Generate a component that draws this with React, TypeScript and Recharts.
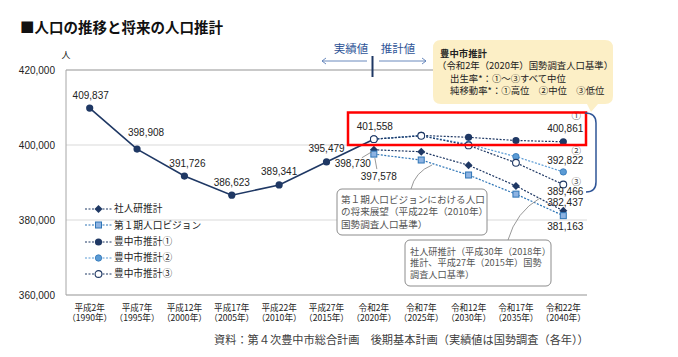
import React from "react";
import {
  ComposedChart,
  Line,
  XAxis,
  YAxis,
  CartesianGrid,
  Legend,
  LabelList,
  ReferenceLine,
} from "recharts";

const years = ["平成2年", "平成7年", "平成12年", "平成17年", "平成22年", "平成27年", "令和2年", "令和7年", "令和12年", "令和17年", "令和22年"];
const seireki = ["1990", "1995", "2000", "2005", "2010", "2015", "2020", "2025", "2030", "2035", "2040"];
const yTicks = [360000, 380000, 400000, 420000];

const actual = [409837, 398908, 391726, 386623, 389341, 395479, 401558, null, null, null, null];
const ipss = [null, null, null, null, null, null, 398730, 398200, 394600, 389100, 382437];
const vision = [null, null, null, null, null, null, 397578, 396000, 392000, 386900, 381163];
const city1 = [null, null, null, null, null, null, 401558, 402550, 402050, 401200, 400861];
const city2 = [null, null, null, null, null, null, 401558, 402500, 400200, 396900, 392822];
const city3 = [null, null, null, null, null, null, 401558, 402450, 399900, 395250, 389466];

const data = years.map((year, i) => ({
  year,
  actual: actual[i],
  ipss: ipss[i],
  vision: vision[i],
  city1: city1[i],
  city2: city2[i],
  city3: city3[i],
}));

const JP = "'Noto Sans CJK JP', sans-serif";
const NUM = "'Liberation Sans', Arial, sans-serif";
const NAVY = "#1f3864";
const BLUE = "#5b9bd5";
const BLUE_DK = "#2e75b6";
const GRAY = "#a6a6a6";

// marker shapes shared by the series dots and the legend
const marker = (kind: string, cx: number, cy: number, key?: any) => {
  switch (kind) {
    case "ipss":
      return <path key={key} d={`M${cx},${cy - 4}L${cx + 4},${cy}L${cx},${cy + 4}L${cx - 4},${cy}Z`} fill={NAVY} />;
    case "vision":
      return <rect key={key} x={cx - 3} y={cy - 3} width={6} height={6} fill="#8db3e2" stroke={BLUE_DK} strokeWidth={1} />;
    case "city1":
      return <circle key={key} cx={cx} cy={cy} r={3.6} fill={NAVY} />;
    case "city2":
      return <circle key={key} cx={cx} cy={cy} r={3.2} fill={BLUE} stroke={BLUE_DK} strokeWidth={0.8} />;
    case "city3":
      return <circle key={key} cx={cx} cy={cy} r={3.4} fill="#fff" stroke={NAVY} strokeWidth={1.1} />;
    default:
      return <circle key={key} cx={cx} cy={cy} r={3.6} fill={NAVY} />;
  }
};

const dotOf = (kind: string) => (p: any) => {
  const { cx, cy, index } = p;
  if (typeof cx !== "number" || typeof cy !== "number" || isNaN(cy)) return <g key={`d${index}`} />;
  return marker(kind, cx, cy, `d${index}`);
};

type Spot = { dx: number; dy: number; anchor?: "start" | "middle" | "end"; lead?: number[]; mark?: string; mdx?: number; mdy?: number };

const labelAt = (spots: Record<number, Spot>) => (p: any) => {
  const x = p.x ?? p.viewBox?.x;
  const y = p.y ?? p.viewBox?.y;
  const s = spots[p.index];
  if (!s || p.value == null || x == null || y == null) return null;
  return (
    <g>
      {s.lead && (
        <line x1={x + s.lead[0]} y1={y + s.lead[1]} x2={x + s.lead[2]} y2={y + s.lead[3]} stroke="#7f7f7f" strokeWidth={0.8} />
      )}
      <text x={x + s.dx} y={y + s.dy} textAnchor={s.anchor ?? "middle"} fontSize={10} fontFamily={NUM} fill="#222">
        {Number(p.value).toLocaleString("en-US")}
      </text>
      {s.mark && (
        <text x={x + (s.mdx ?? 0)} y={y + (s.mdy ?? 0)} textAnchor="middle" fontSize={9.5} fontFamily={JP} fill="#444">
          {s.mark}
        </text>
      )}
    </g>
  );
};

const actualSpots: Record<number, Spot> = {
  0: { dx: 1, dy: -9 },
  1: { dx: 9, dy: -13 },
  2: { dx: 3, dy: -9.5 },
  3: { dx: 0, dy: -9 },
  4: { dx: 0, dy: -9.5 },
  5: { dx: 0, dy: -9.5 },
  6: { dx: 1, dy: -9 },
};
const ipssSpots: Record<number, Spot> = {
  6: { dx: -3, dy: 17, anchor: "end", lead: [-2, 2, -12, 8] },
  10: { dx: 20, dy: -5, anchor: "end" },
};
const visionSpots: Record<number, Spot> = {
  6: { dx: 5, dy: 26, lead: [1, 4, 3, 15] },
  10: { dx: 20, dy: 14, anchor: "end" },
};
const city1Spots: Record<number, Spot> = { 10: { dx: 20, dy: -10, anchor: "end", mark: "①", mdx: 13, mdy: -22.5 } };
const city2Spots: Record<number, Spot> = { 10: { dx: 20, dy: -7.5, anchor: "end", mark: "②", mdx: 13, mdy: -17.5 } };
const city3Spots: Record<number, Spot> = { 10: { dx: 20, dy: 10, anchor: "end", mark: "③", mdx: 13, mdy: 0.5 } };

const YearTick = (p: any) => {
  const { x, y, payload, index } = p;
  return (
    <g fontFamily={JP} fontSize={8.6} fill="#222">
      <text x={x} y={y + 13.5} textAnchor="middle">{payload.value}</text>
      <text x={x} y={y + 24} textAnchor="middle">（{seireki[index]}年）</text>
    </g>
  );
};

const lineColor: Record<string, string> = { ipss: NAVY, vision: BLUE_DK, city1: NAVY, city2: BLUE, city3: NAVY };

const renderLegend = (props: any) => (
  <div style={{ fontFamily: JP, fontSize: 9.7, color: "#222", lineHeight: 1 }}>
    {(props.payload ?? [])
      .filter((it: any) => it.type !== "none" && lineColor[it.dataKey])
      .map((it: any) => (
        <div key={it.value} style={{ display: "flex", alignItems: "center", height: 16.3 }}>
          <svg width={30} height={10} style={{ display: "block" }}>
            <line x1={1} y1={5} x2={28} y2={5} stroke={lineColor[it.dataKey]} strokeDasharray="2 1.5" strokeWidth={1.2} />
            {marker(it.dataKey, 14.5, 5)}
          </svg>
          <span>{it.value}</span>
        </div>
      ))}
  </div>
);

function Overlay() {
  return (
    <svg width={678} height={357} style={{ position: "absolute", left: 0, top: 0, pointerEvents: "none" }}>
      <text x={20} y={33} fontFamily={JP} fontSize={14.5} fontWeight="bold" fill="#111">■人口の推移と将来の人口推計</text>
      <text x={66} y={58} textAnchor="middle" fontFamily={JP} fontSize={9} fill="#222">人</text>

      {/* actual / projection divider */}
      <text x={351} y={53} textAnchor="middle" fontFamily={JP} fontSize={11.5} fill="#2f5597">実績値</text>
      <text x={398} y={53} textAnchor="middle" fontFamily={JP} fontSize={11.5} fill="#2f5597">推計値</text>
      <g stroke="#5a7db5" strokeWidth={0.9} fill="none">
        <path d="M322,61 L367,61 M326,58 L322,61 L326,64" />
        <path d="M379,61 L426,61 M422,58 L426,61 L422,64" />
      </g>
      <line x1={372.5} y1={56} x2={372.5} y2={77} stroke={NAVY} strokeWidth={2} />

      {/* beige callout */}
      <path
        d="M441,40 L605,40 Q613,40 613,48 L613,96 Q613,104 605,104 L598,104 L591,112 L587,104 L441,104 Q433,104 433,96 L433,48 Q433,40 441,40 Z"
        fill="#fcefc6"
      />
      <g fontFamily={JP} fontSize={9.4} fill="#222">
        <text x={440} y={56.5} fontWeight="bold">豊中市推計</text>
        <text x={437} y={68.5}>（令和2年（2020年）国勢調査人口基準）</text>
        <text x={450} y={81.5}>出生率*：①〜③すべて中位</text>
        <text x={450} y={94}>純移動率*：①高位　②中位　③低位</text>
      </g>

      <rect x={348} y={112.5} width={238} height={32.5} fill="none" stroke="#ff0000" strokeWidth={2.5} />
      <path d="M585,113 Q596,113 596,123 L596,182 Q596,192 586,192" fill="none" stroke="#2f5597" strokeWidth={1.5} />

      {/* gray note boxes */}
      <g fill="none" stroke="#8c8c8c" strokeWidth={0.9}>
        <path d="M411,189 Q415,172 432,165" />
        <path d="M508,240 Q516,212 540,198" />
      </g>
      <rect x={337} y={189} width={150} height={46} rx={5} fill="#fff" stroke="#8c8c8c" strokeWidth={1} />
      <g fontFamily={JP} fontSize={9.6} fill="#555">
        <text x={341} y={202.5}>第１期人口ビジョンにおける人口</text>
        <text x={341} y={215}>の将来展望（平成22年（2010年）</text>
        <text x={341} y={227.5}>国勢調査人口基準）</text>
      </g>
      <rect x={405} y={240} width={146} height={46} rx={5} fill="#fff" stroke="#8c8c8c" strokeWidth={1} />
      <g fontFamily={JP} fontSize={9.2} fill="#555">
        <text x={410} y={254.5}>社人研推計（平成30年（2018年）</text>
        <text x={410} y={266}>推計、平成27年（2015年）国勢</text>
        <text x={410} y={277.5}>調査人口基準）</text>
      </g>

      <text x={214} y={344} fontFamily={JP} fontSize={11.2} fill="#404040">
        資料：第４次豊中市総合計画　後期基本計画（実績値は国勢調査（各年））
      </text>
    </svg>
  );
}

export default function App() {
  return (
    <div style={{ position: "absolute", left: 0, top: 0, width: 678, height: 357, background: "#fff" }}>
      <ComposedChart width={678} height={357} data={data} margin={{ top: 70, right: 91, bottom: 32, left: 8 }}>
        <CartesianGrid vertical={false} stroke="#d9d9d9" />
        <XAxis
          dataKey="year"
          padding={{ left: 23.7, right: 23.7 }}
          tickSize={0}
          tickLine={false}
          axisLine={{ stroke: GRAY }}
          interval={0}
          height={30}
          tick={<YearTick />}
        />
        <YAxis
          domain={[360000, 420000]}
          ticks={yTicks}
          interval={0}
          width={58}
          tickSize={0}
          tickMargin={11}
          tickLine={false}
          axisLine={{ stroke: GRAY }}
          tick={{ fontSize: 10, fill: "#222", fontFamily: NUM }}
          tickFormatter={(v: number) => v.toLocaleString("en-US")}
        />
        <YAxis yAxisId="r" orientation="right" width={0} tick={false} tickLine={false} axisLine={{ stroke: GRAY }} />
        <ReferenceLine y={420000} stroke={GRAY} />
        <Legend
          layout="vertical"
          align="center"
          verticalAlign="middle"
          content={renderLegend}
          wrapperStyle={{ left: 84, top: 201, width: 150, height: 82 }}
        />
        <Line dataKey="actual" name="実績" stroke={NAVY} strokeWidth={1.6} dot={dotOf("actual")} legendType="none" isAnimationActive={false}>
          <LabelList dataKey="actual" content={labelAt(actualSpots)} />
        </Line>
        <Line dataKey="ipss" name="社人研推計" stroke={NAVY} strokeWidth={1.2} strokeDasharray="2 1.5" dot={dotOf("ipss")} isAnimationActive={false}>
          <LabelList dataKey="ipss" content={labelAt(ipssSpots)} />
        </Line>
        <Line dataKey="vision" name="第１期人口ビジョン" stroke={BLUE_DK} strokeWidth={1.2} strokeDasharray="2 1.5" dot={dotOf("vision")} isAnimationActive={false}>
          <LabelList dataKey="vision" content={labelAt(visionSpots)} />
        </Line>
        <Line dataKey="city1" name="豊中市推計①" stroke={NAVY} strokeWidth={1.2} strokeDasharray="2 1.5" dot={dotOf("city1")} isAnimationActive={false}>
          <LabelList dataKey="city1" content={labelAt(city1Spots)} />
        </Line>
        <Line dataKey="city2" name="豊中市推計②" stroke={BLUE} strokeWidth={1.2} strokeDasharray="2 1.5" dot={dotOf("city2")} isAnimationActive={false}>
          <LabelList dataKey="city2" content={labelAt(city2Spots)} />
        </Line>
        <Line dataKey="city3" name="豊中市推計③" stroke={NAVY} strokeWidth={1.2} strokeDasharray="2 1.5" dot={dotOf("city3")} isAnimationActive={false}>
          <LabelList dataKey="city3" content={labelAt(city3Spots)} />
        </Line>
      </ComposedChart>
      <Overlay />
    </div>
  );
}
